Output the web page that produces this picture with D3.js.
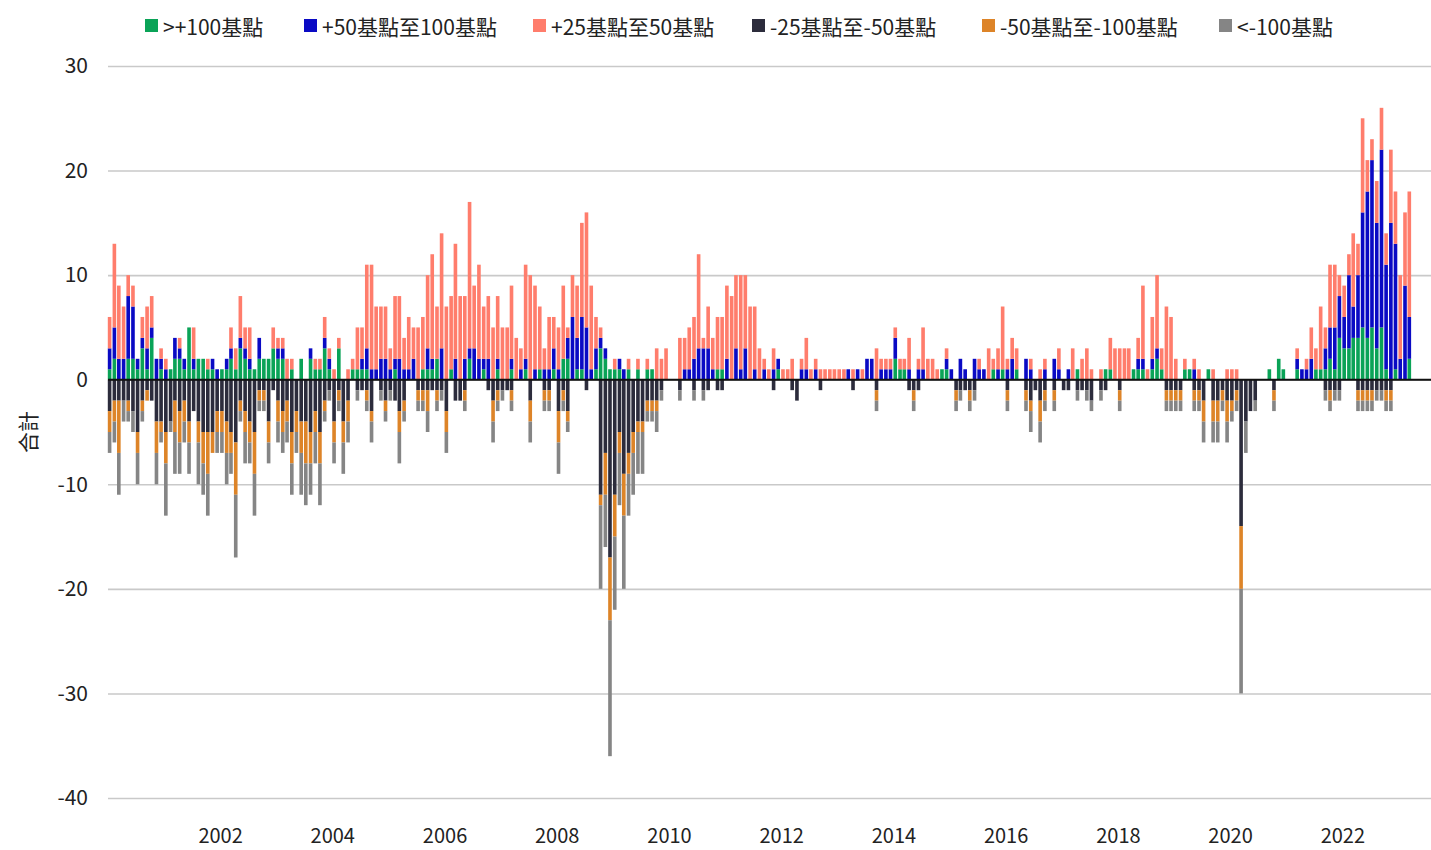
<!DOCTYPE html>
<html>
<head>
<meta charset="utf-8">
<script src="https://cdn.jsdelivr.net/npm/d3@7"></script>
<style>
  body { margin: 0; background: #fff; }
  text { font-family: "Noto Sans CJK TC", "Noto Sans", sans-serif; fill: #222; }
</style>
</head>
<body>
<div id="chart"></div>
<script>
// monthly counts, Jan 2000 .. Mar 2023 (one row per year)
const up100 = [
  1,2,0,0,2,2,1,3,1,4,0,1,
  0,1,2,2,1,5,1,2,2,1,1,0,
  1,1,2,1,3,2,1,1,2,2,2,3,
  2,2,0,1,0,2,0,2,1,1,3,1,
  0,3,0,0,1,1,1,1,0,0,0,0,
  0,1,0,0,0,0,0,1,1,1,2,0,
  0,1,0,0,0,2,0,0,1,0,0,1,
  0,0,1,0,0,1,0,0,1,0,0,1,
  0,2,2,0,1,1,0,0,1,3,2,1,
  1,1,0,1,0,1,0,1,1,0,0,0,
  0,0,0,0,0,0,0,0,0,0,1,1,
  0,0,0,0,0,0,0,0,0,0,0,1,
  0,0,0,0,0,0,0,0,0,0,0,0,
  0,0,0,0,0,0,0,0,0,0,0,0,
  2,1,1,0,0,0,0,0,0,0,1,1,
  0,0,0,0,0,0,0,0,0,1,0,1,
  0,0,1,0,0,0,0,0,0,0,0,0,
  0,0,0,1,0,0,0,0,0,1,1,0,
  0,0,0,1,1,1,0,1,2,1,0,0,
  0,0,1,1,0,0,0,1,0,0,0,0,
  0,0,0,0,0,0,0,0,1,0,2,1,
  0,0,1,0,0,0,1,1,1,2,1,4,
  3,3,4,4,5,4,5,3,5,1,0,1,
  0,0,2
];
const up50 = [
  2,3,2,2,6,5,1,1,2,1,2,1,
  1,0,2,1,1,0,1,0,0,0,1,1,
  0,1,1,0,1,1,1,0,2,0,0,0,
  1,1,0,0,0,0,0,1,0,0,1,1,
  0,0,0,0,0,0,1,2,1,1,2,2,
  1,1,2,1,1,2,0,0,2,1,0,3,
  0,0,2,0,2,1,3,2,1,2,0,1,
  0,0,1,0,1,1,0,1,0,1,1,2,
  1,0,2,6,3,5,5,1,2,1,1,0,
  0,1,1,0,0,0,0,0,0,0,0,0,
  0,0,0,1,1,2,3,3,3,1,0,0,
  2,0,3,1,3,0,1,0,1,0,1,1,
  0,0,0,0,1,1,0,1,0,0,0,0,
  0,0,1,0,1,0,2,2,0,1,1,1,
  2,0,0,1,0,1,1,0,0,0,0,1,
  1,0,2,1,0,2,1,1,0,0,1,0,
  1,2,0,0,2,1,0,0,1,0,2,1,
  0,1,0,0,0,0,0,0,0,0,0,0,
  0,0,0,0,1,1,0,1,1,0,0,0,
  0,0,0,0,1,0,0,0,0,0,0,0,
  0,0,0,0,0,0,0,0,0,0,0,0,
  0,0,1,1,1,2,0,0,2,3,4,4,
  3,7,3,6,11,14,16,12,17,10,15,12,
  2,9,4
];
const up25 = [
  3,8,7,5,2,2,0,2,4,3,0,1,
  1,0,0,1,0,0,3,0,0,1,0,0,
  0,0,2,2,4,2,3,0,0,0,0,2,
  1,1,2,1,0,0,0,0,1,1,2,1,
  1,1,0,1,1,4,3,8,10,6,5,5,
  2,6,6,3,5,3,5,5,7,10,5,11,
  7,7,11,8,6,14,6,9,5,6,5,6,
  5,5,7,4,2,9,10,8,6,2,5,3,
  4,7,1,4,5,9,11,8,3,1,0,0,
  1,0,0,1,0,1,0,1,0,3,2,3,
  0,0,4,3,4,4,9,1,4,3,5,5,
  7,8,7,9,7,7,6,3,1,1,2,0,
  1,1,2,0,1,3,1,1,1,1,1,1,
  1,1,0,1,0,1,0,0,3,1,1,1,
  1,1,1,3,0,1,4,2,2,1,0,1,
  0,0,0,0,0,0,1,0,3,1,2,6,
  1,2,2,0,0,1,0,1,1,0,0,2,
  0,0,3,0,2,3,1,0,1,0,3,3,
  3,3,3,0,2,7,1,4,7,2,7,6,
  2,0,1,0,1,1,0,0,1,0,0,1,
  1,1,0,0,0,0,0,0,0,0,0,0,
  0,0,1,0,1,3,2,6,2,6,6,2,
  3,2,7,3,9,3,2,4,4,3,7,5,
  8,7,12
];
const dn25 = [
  -3,-2,-2,-2,-2,-3,-5,-2,-1,-2,-4,-4,
  -5,-4,-2,-3,-2,-4,-3,-4,-5,-5,-5,-3,
  -3,-4,-5,-6,-2,-3,-4,-5,-1,-1,-4,-1,
  -2,-3,-2,-5,-3,-4,-4,-5,-3,-5,-2,-1,
  -4,-1,-4,-2,0,-1,-1,-1,-3,0,-1,-2,
  -1,-2,-3,-2,0,0,-1,-1,-1,-1,-1,-1,
  -3,0,-2,-2,-1,0,0,0,0,-1,-2,-1,
  -1,-1,-1,0,0,0,-2,0,0,-1,-1,0,
  -3,-1,-3,0,0,0,-1,0,0,-11,-7,-17,
  -11,-5,-9,-7,-5,-4,-4,-2,-2,-2,-1,0,
  0,0,-1,0,0,-1,0,-1,-1,0,-1,-1,
  0,0,0,0,0,0,0,0,0,0,-1,0,
  0,0,-1,-2,0,0,0,0,-1,0,0,0,
  0,0,0,-1,0,0,0,0,-1,0,0,0,
  0,0,0,-1,-1,-1,0,0,0,0,0,0,
  0,-1,-1,-1,-1,-1,0,0,0,0,0,0,
  -1,0,0,0,-1,-2,-1,-2,-1,0,-1,0,
  -1,-1,0,-1,-1,-1,-2,0,-1,-1,0,0,
  -1,0,0,0,0,0,0,0,0,0,-1,-1,
  -1,-1,0,0,-1,-1,-2,0,-2,-2,-1,-2,
  -2,-1,-14,-4,-3,-2,0,0,0,-1,0,0,
  0,0,0,0,0,0,0,0,-1,-1,-1,-1,
  0,0,0,-1,-1,-1,-1,-1,-1,-1,-1,0,
  0,0,0
];
const dn50 = [
  -2,-2,-5,0,-1,0,-2,-1,-1,0,-3,-1,
  -3,0,-3,-3,-2,-2,0,-2,-3,-4,-2,-2,
  -2,-3,-2,-5,-1,-2,-2,-4,-1,-1,-2,0,
  -2,-2,-2,-3,-2,-3,-4,-3,-2,-3,-1,0,
  -2,-1,-2,-2,0,0,0,-1,-1,0,0,-1,
  0,0,-2,-1,0,0,-1,-1,-2,0,-1,0,
  -2,0,0,0,-1,0,0,0,0,0,-2,-1,
  0,0,-1,0,0,0,-2,0,0,-1,-1,0,
  -3,-1,-1,0,0,0,0,0,0,-1,-4,-6,
  -4,-2,-4,-2,-2,-1,-1,-1,-1,-1,0,0,
  0,0,0,0,0,0,0,0,0,0,0,0,
  0,0,0,0,0,0,0,0,0,0,0,0,
  0,0,0,0,0,0,0,0,0,0,0,0,
  0,0,0,0,0,0,0,0,-1,0,0,0,
  0,0,0,0,-1,0,0,0,0,0,0,0,
  0,-1,0,0,-1,0,0,0,0,0,0,0,
  -1,0,0,0,-1,-1,0,-2,-1,0,-1,0,
  0,0,0,0,0,0,0,0,0,0,0,0,
  -1,0,0,0,0,0,0,0,0,0,-1,-1,
  -1,-1,0,0,-1,-1,-2,0,-2,-2,-1,-2,
  -1,-1,-6,0,0,0,0,0,0,-1,0,0,
  0,0,0,0,0,0,0,0,0,-1,0,0,
  0,0,0,-1,-1,-1,-1,0,0,-1,-1,0,
  0,0,0
];
const dn100 = [
  -2,-2,-4,-2,-1,-2,-3,-1,0,0,-3,-1,
  -5,-1,-4,-3,-2,-3,0,-4,-3,-4,0,-2,
  -2,-3,-2,-6,-1,-3,-2,-4,-1,-1,-2,0,
  -2,-2,-2,-3,-2,-4,-4,-3,-3,-4,-1,-1,
  -2,-1,-3,-2,0,-1,0,-1,-2,0,-1,-1,
  -1,0,-3,-1,0,0,-1,-1,-2,0,-1,-1,
  -2,0,0,0,-1,0,0,0,0,0,-2,-1,
  -1,0,-1,0,0,0,-2,0,0,-1,-1,0,
  -3,-1,-1,0,0,0,0,0,0,-8,-5,-13,
  -7,-5,-7,-4,-4,-4,-4,-1,-1,-2,-1,0,
  0,0,-1,0,0,-1,0,-1,0,0,0,0,
  0,0,0,0,0,0,0,0,0,0,0,0,
  0,0,0,0,0,0,0,0,0,0,0,0,
  0,0,0,0,0,0,0,0,-1,0,0,0,
  0,0,0,0,-1,0,0,0,0,0,0,0,
  0,-1,-1,0,-1,-1,0,0,0,0,0,0,
  -1,0,0,0,-1,-2,0,-2,-1,0,-1,0,
  0,0,0,-1,0,-1,-1,0,-1,0,0,0,
  -1,0,0,0,0,0,0,0,0,0,-1,-1,
  -1,-1,0,0,-1,-1,-2,0,-2,-2,-1,-2,
  -1,-1,-10,-3,0,-1,0,0,0,-1,0,0,
  0,0,0,0,0,0,0,0,-1,-1,-1,-1,
  0,0,0,-1,-1,-1,-1,-1,-1,-1,-1,0,
  0,0,0
];

const keys = ["up100", "up50", "up25", "dn25", "dn50", "dn100"];
const labels = [">+100基點", "+50基點至100基點", "+25基點至50基點", "-25基點至-50基點", "-50基點至-100基點", "<-100基點"];
const colors = ["#0aa357", "#0a0ac4", "#ff7d6c", "#2c2c3c", "#dd8428", "#858585"];
const yTicks = [-40, -30, -20, -10, 0, 10, 20, 30];
const xTickYears = [2002, 2004, 2006, 2008, 2010, 2012, 2014, 2016, 2018, 2020, 2022];

const width = 1431, height = 850;
const margin = {top: 66, right: 0, bottom: 52, left: 108};
const legendX = [145, 304, 533, 752, 982, 1219];

const months = d3.timeMonth.range(new Date(2000, 0, 1), new Date(2000, up100.length, 1));
const src = {up100, up50, up25, dn25, dn50, dn100};
const rows = months.map((date, i) => {
  const r = {date};
  keys.forEach(k => r[k] = src[k][i]);
  return r;
});

const svg = d3.select("#chart").append("svg")
  .attr("width", width)
  .attr("height", height);

const x = d3.scaleTime()
  .domain([new Date(2000, 0, 1), new Date(2023, 7, 1)])
  .range([107.8, width]);

const y = d3.scaleLinear()
  .domain([-40, 30])
  .range([height - margin.bottom, margin.top]);

const color = d3.scaleOrdinal().domain(keys).range(colors);

// y axis + gridlines
const yAxis = svg.append("g")
  .attr("transform", `translate(${margin.left},0)`)
  .call(d3.axisLeft(y)
    .tickValues(yTicks)
    .tickSize(-(width - margin.left))
    .tickPadding(20)
    .tickFormat(d => String(d)));
yAxis.select(".domain").remove();
yAxis.selectAll(".tick line").attr("stroke", "#c9c9c9").attr("stroke-width", 1.6);
yAxis.selectAll(".tick text").style("font-size", "21px").attr("fill", "#222");

// x axis (labels only)
const xAxis = svg.append("g")
  .attr("transform", `translate(0,${height - margin.bottom})`)
  .call(d3.axisBottom(x)
    .tickValues(xTickYears.map(yr => new Date(yr, 0, 1)))
    .tickSize(0)
    .tickPadding(31)
    .tickFormat(d3.timeFormat("%Y")));
xAxis.select(".domain").remove();
xAxis.selectAll(".tick text").style("font-size", "20px").attr("fill", "#222");

// stacked bars
const stacked = d3.stack().keys(keys).offset(d3.stackOffsetDiverging)(rows);
const barW = (x(new Date(2000, 1, 1)) - x(new Date(2000, 0, 1))) * 0.76;

svg.append("g")
  .selectAll("g")
  .data(stacked)
  .enter()
  .append("g")
  .attr("fill", d => color(d.key))
  .selectAll("rect")
  .data(d => d.filter(s => s[1] !== s[0]))
  .enter()
  .append("rect")
  .attr("x", d => x(d.data.date))
  .attr("y", d => y(Math.max(d[0], d[1])))
  .attr("width", barW)
  .attr("height", d => Math.abs(y(d[0]) - y(d[1])));

// zero line
svg.append("line")
  .attr("x1", margin.left)
  .attr("x2", width)
  .attr("y1", y(0))
  .attr("y2", y(0))
  .attr("stroke", "#111")
  .attr("stroke-width", 2);

// y title
svg.append("text")
  .attr("transform", `translate(27,${y(-5)}) rotate(-90)`)
  .attr("text-anchor", "middle")
  .attr("dominant-baseline", "central")
  .style("font-size", "21px")
  .text("合計");

// legend
const legend = svg.append("g").attr("transform", "translate(0,26)");
labels.forEach((lab, i) => {
  const item = legend.append("g").attr("transform", `translate(${legendX[i]},0)`);
  item.append("rect")
    .attr("x", 0).attr("y", -7)
    .attr("width", 13).attr("height", 13)
    .attr("fill", colors[i]);
  item.append("text")
    .attr("x", 18)
    .attr("dominant-baseline", "central")
    .style("font-size", "21px")
    .text(lab);
});
</script>
</body>
</html>
